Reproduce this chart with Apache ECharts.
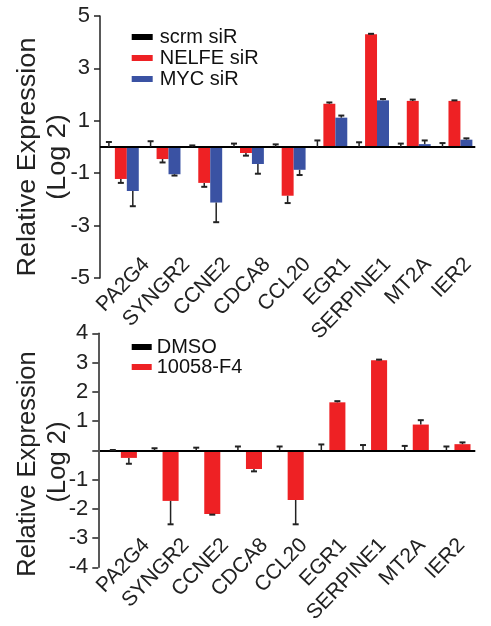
<!DOCTYPE html>
<html><head><meta charset="utf-8">
<script src="https://cdn.jsdelivr.net/npm/echarts@6/dist/echarts.min.js"></script>
<style>html,body{margin:0;padding:0;background:#fff}#c{width:491px;height:626px}</style>
</head><body><div id="c"></div>
<script>
const genes = ['PA2G4','SYNGR2','CCNE2','CDCA8','CCL20','EGR1','SERPINE1','MT2A','IER2'];
// top panel (siRNA)
const topSeriesNames = ['scrm siR','NELFE siR','MYC siR'];
const scrmVal  = [0,0,0,0,0,0,0,0,0];
const scrmErr  = [0.19,0.22,0.06,0.13,0.10,0.25,0.18,0.13,0.15];
const nelfeVal = [-1.22,-0.46,-1.37,-0.23,-1.86,1.65,4.30,1.76,1.76];
const nelfeErr = [0.15,0.13,0.15,0.10,0.28,0.05,0.02,0.05,0.02];
const mycVal   = [-1.68,-1.04,-2.12,-0.65,-0.87,1.12,1.78,0.11,0.28];
const mycErr   = [0.58,0.05,0.75,0.37,0.20,0.08,0.05,0.14,0.05];
const topMin = -5, topMax = 5, topStep = 2;
// bottom panel (drug)
const bottomSeriesNames = ['DMSO','10058-F4'];
const dmsoVal = [0,0,0,0,0,0,0,0,0];
const dmsoErr = [0.01,0.07,0.09,0.13,0.13,0.20,0.18,0.15,0.13];
const f4Val   = [-0.26,-1.73,-2.18,-0.64,-1.70,1.64,3.08,0.88,0.21];
const f4Err   = [0.20,0.80,0.02,0.08,0.83,0.04,0.02,0.15,0.06];
const botMin = -4, botMax = 4, botStep = 1;
const yTitle1 = 'Relative Expression', yTitle2 = '(Log 2)';

const FONT = '"Liberation Sans", Arial, sans-serif';
const RED = '#EE2124', BLUE = '#3A52A3', BLACK = '#000';

function errSeries(idx, vals, errs, k, n, gap, color) {
  return {
    type: 'custom', name: 'err' + idx + '_' + k, xAxisIndex: idx, yAxisIndex: idx, silent: true, z: 5,
    data: vals.map((v, i) => [i, v, errs[i]]),
    renderItem(params, api) {
      const i = api.value(0), v = api.value(1), e = api.value(2);
      const band = api.size([1, 0])[0];
      const bw = band * (1 - gap) / n;
      const x = api.coord([i, 0])[0] + (k - (n - 1) / 2) * bw;
      const dir = v >= 0 ? 1 : -1;
      const y0 = api.coord([i, v])[1];
      const y1 = api.coord([i, v + dir * e])[1];
      return {type: 'group', children: [
        {type: 'line', shape: {x1: x, y1: y0, x2: x, y2: y1}, style: {stroke: color, lineWidth: 1.5}},
        {type: 'line', shape: {x1: x - 3, y1: y1, x2: x + 3, y2: y1}, style: {stroke: color, lineWidth: 2}}
      ]};
    }
  };
}
function bar(name, idx, data, color, gap) {
  return {type: 'bar', name, xAxisIndex: idx, yAxisIndex: idx, data, itemStyle: {color},
    barGap: '0%', barCategoryGap: (gap * 100) + '%', z: 3};
}
const zeroLine = {silent: true, symbol: 'none', label: {show: false},
  lineStyle: {color: '#000', width: 2, type: 'solid'}, data: [{yAxis: 0}]};

const gapTop = 0.14, gapBot = 0.23;
const sTopN = bar(topSeriesNames[1], 0, nelfeVal, RED, gapTop);
sTopN.markLine = zeroLine;
const sBotF = bar(bottomSeriesNames[1], 1, f4Val, RED, gapBot);
sBotF.markLine = zeroLine;

const yAxisCommon = (min, max, step, off) => ({
  type: 'value', min, max, interval: step, offset: off,
  axisLine: {show: true, onZero: false, lineStyle: {color: '#222', width: 1.5}},
  axisTick: {show: true, length: 6, lineStyle: {color: '#222', width: 1.5}},
  axisLabel: {fontSize: 22, color: '#222', fontFamily: FONT, margin: 10,
    formatter: v => v === 0 ? '' : String(v)},
  splitLine: {show: false}
});
const xHidden = gi => ({type: 'category', gridIndex: gi, data: genes,
  axisLine: {show: false}, axisTick: {show: false}, axisLabel: {show: false}});
const xLabels = (gi, margin) => ({type: 'category', gridIndex: gi, data: genes,
  axisLine: {show: false}, axisTick: {show: false},
  axisLabel: {show: true, interval: 0, rotate: 46, margin, fontSize: 21, color: '#222', fontFamily: FONT}});

const chart = echarts.init(document.getElementById('c'), null, {renderer: 'canvas'});
chart.setOption({
  animation: false,
  backgroundColor: '#fff',
  grid: [
    {left: 100, top: 16, width: 375.3, height: 262},
    {left: 100, top: 333.3, width: 375.3, height: 234},
    {left: 126.2, top: 16, width: 361.8, height: 262},
    {left: 126.6, top: 333.3, width: 354.6, height: 234}
  ],
  xAxis: [xHidden(0), xHidden(1), xLabels(2, -17), xLabels(3, -24.5)],
  yAxis: [
    Object.assign(yAxisCommon(topMin, topMax, topStep, 0), {gridIndex: 0}),
    Object.assign(yAxisCommon(botMin, botMax, botStep, 1.7), {gridIndex: 1}),
    {type: 'value', gridIndex: 2, show: false},
    {type: 'value', gridIndex: 3, show: false}
  ],
  legend: [
    {orient: 'vertical', left: 126.7, top: 22, itemWidth: 21, itemHeight: 6, itemGap: 1, icon: 'rect',
      data: topSeriesNames, selectedMode: false,
      textStyle: {fontSize: 20, lineHeight: 20, color: '#111', fontFamily: FONT, padding: [0, 0, 0, 2]}},
    {orient: 'vertical', left: 126.7, top: 332, itemWidth: 20, itemHeight: 6, itemGap: 0, icon: 'rect',
      data: bottomSeriesNames, selectedMode: false,
      textStyle: {fontSize: 20, lineHeight: 20, color: '#111', fontFamily: FONT}}
  ],
  graphic: [
    {type: 'text', x: 28, y: 157, rotation: Math.PI / 2, scaleX: 1.06,
      style: {text: yTitle1, fontSize: 25.5, fontFamily: FONT, fill: '#222', align: 'center', verticalAlign: 'middle'}},
    {type: 'text', x: 58, y: 157, rotation: Math.PI / 2, scaleX: 1.06,
      style: {text: yTitle2, fontSize: 25.5, fontFamily: FONT, fill: '#222', align: 'center', verticalAlign: 'middle'}},
    {type: 'text', x: 28, y: 464, rotation: Math.PI / 2,
      style: {text: yTitle1, fontSize: 25.5, fontFamily: FONT, fill: '#222', align: 'center', verticalAlign: 'middle'}},
    {type: 'text', x: 58, y: 462, rotation: Math.PI / 2,
      style: {text: yTitle2, fontSize: 25.5, fontFamily: FONT, fill: '#222', align: 'center', verticalAlign: 'middle'}}
  ],
  series: [
    bar(topSeriesNames[0], 0, scrmVal, BLACK, gapTop),
    sTopN,
    bar(topSeriesNames[2], 0, mycVal, BLUE, gapTop),
    errSeries(0, scrmVal, scrmErr, 0, 3, gapTop, '#222'),
    errSeries(0, nelfeVal, nelfeErr, 1, 3, gapTop, '#222'),
    errSeries(0, mycVal, mycErr, 2, 3, gapTop, '#222'),
    bar(bottomSeriesNames[0], 1, dmsoVal, BLACK, gapBot),
    sBotF,
    errSeries(1, dmsoVal, dmsoErr, 0, 2, gapBot, '#222'),
    errSeries(1, f4Val, f4Err, 1, 2, gapBot, '#222')
  ]
});
</script></body></html>
